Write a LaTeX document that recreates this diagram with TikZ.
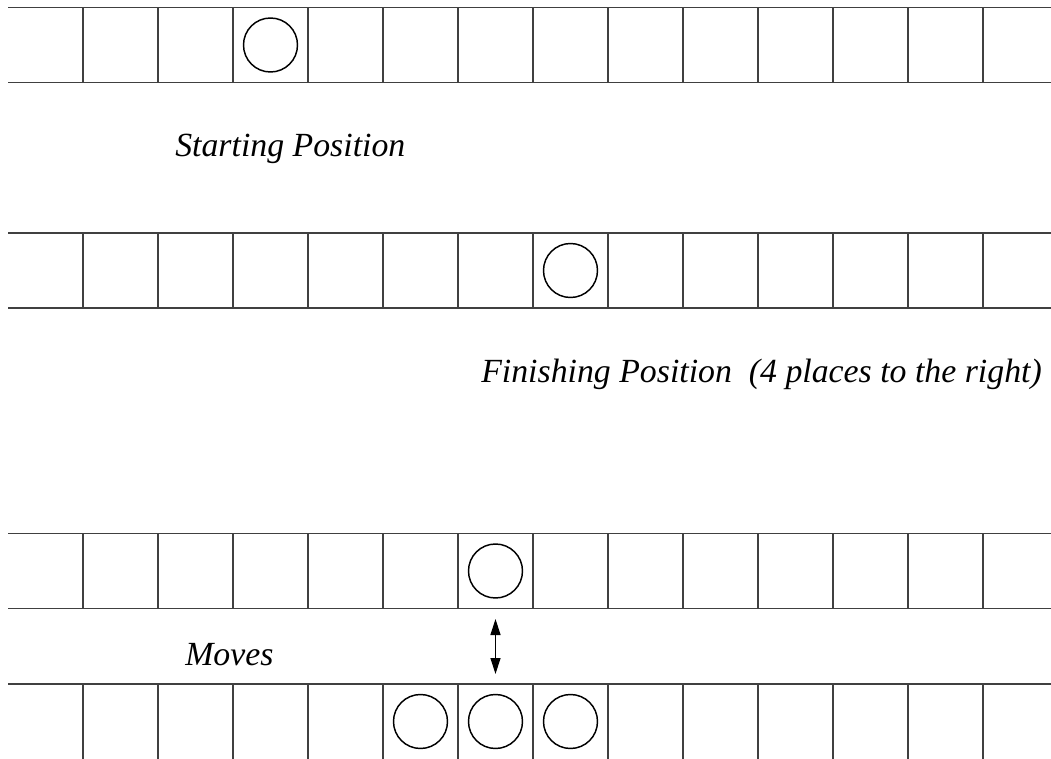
\documentclass[tikz,border=0pt]{standalone}
\usepackage{fontspec}
\setmainfont{Liberation Serif}
\usetikzlibrary{arrows.meta}
\begin{document}
\begin{tikzpicture}[x=0.75pt,y=-0.75pt,
  gridline/.style={line width=0.8pt,draw=black!75},
  piece/.style={circle,draw,line width=1.1pt,minimum size=54*0.75pt,inner sep=0pt},
  label/.style={anchor=base west,inner sep=0pt,font=\fontsize{25.35}{30}\selectfont\itshape},
  twoway/.style={line width=0.9pt,{Triangle[length=12pt,width=7.5pt]}-{Triangle[length=12pt,width=7.5pt]}}]
\useasboundingbox (0,0) rectangle (1051,759);
% row 1
\draw[gridline] (8,7.5) -- (1051,7.5) (8,82.5) -- (1051,82.5);
\foreach \i in {0,...,12} \draw[gridline] (83+75*\i,7.5) -- (83+75*\i,82.5);
% row 2
\draw[gridline] (8,233) -- (1051,233) (8,308) -- (1051,308);
\foreach \i in {0,...,12} \draw[gridline] (83+75*\i,233) -- (83+75*\i,308);
% row 3
\draw[gridline] (8,533.5) -- (1051,533.5) (8,608.5) -- (1051,608.5);
\foreach \i in {0,...,12} \draw[gridline] (83+75*\i,533.5) -- (83+75*\i,608.5);
% row 4
\draw[gridline] (8,684) -- (1051,684);
\foreach \i in {0,...,12} \draw[gridline] (83+75*\i,684) -- (83+75*\i,759);
% pieces
\node[piece] (p1) at (270.5,45) {};
\node[piece] (p2) at (570.5,270.5) {};
\node[piece] (p3) at (495.5,571) {};
\node[piece] (p4) at (420.5,721.5) {};
\node[piece] (p5) at (495.5,721.5) {};
\node[piece] (p6) at (570.5,721.5) {};
% labels
\node[label] (start) at (175,157) {Starting Position};
\node[label] (finish) at (481,383) {Finishing Position\ \ (4 places to the right)};
\node[label] (moves) at (185,665) {Moves};
% arrow
\coordinate (atop) at (495.5,619);
\coordinate (abot) at (495.5,674);
\draw[twoway] (atop) -- (abot);
\end{tikzpicture}
\end{document}
